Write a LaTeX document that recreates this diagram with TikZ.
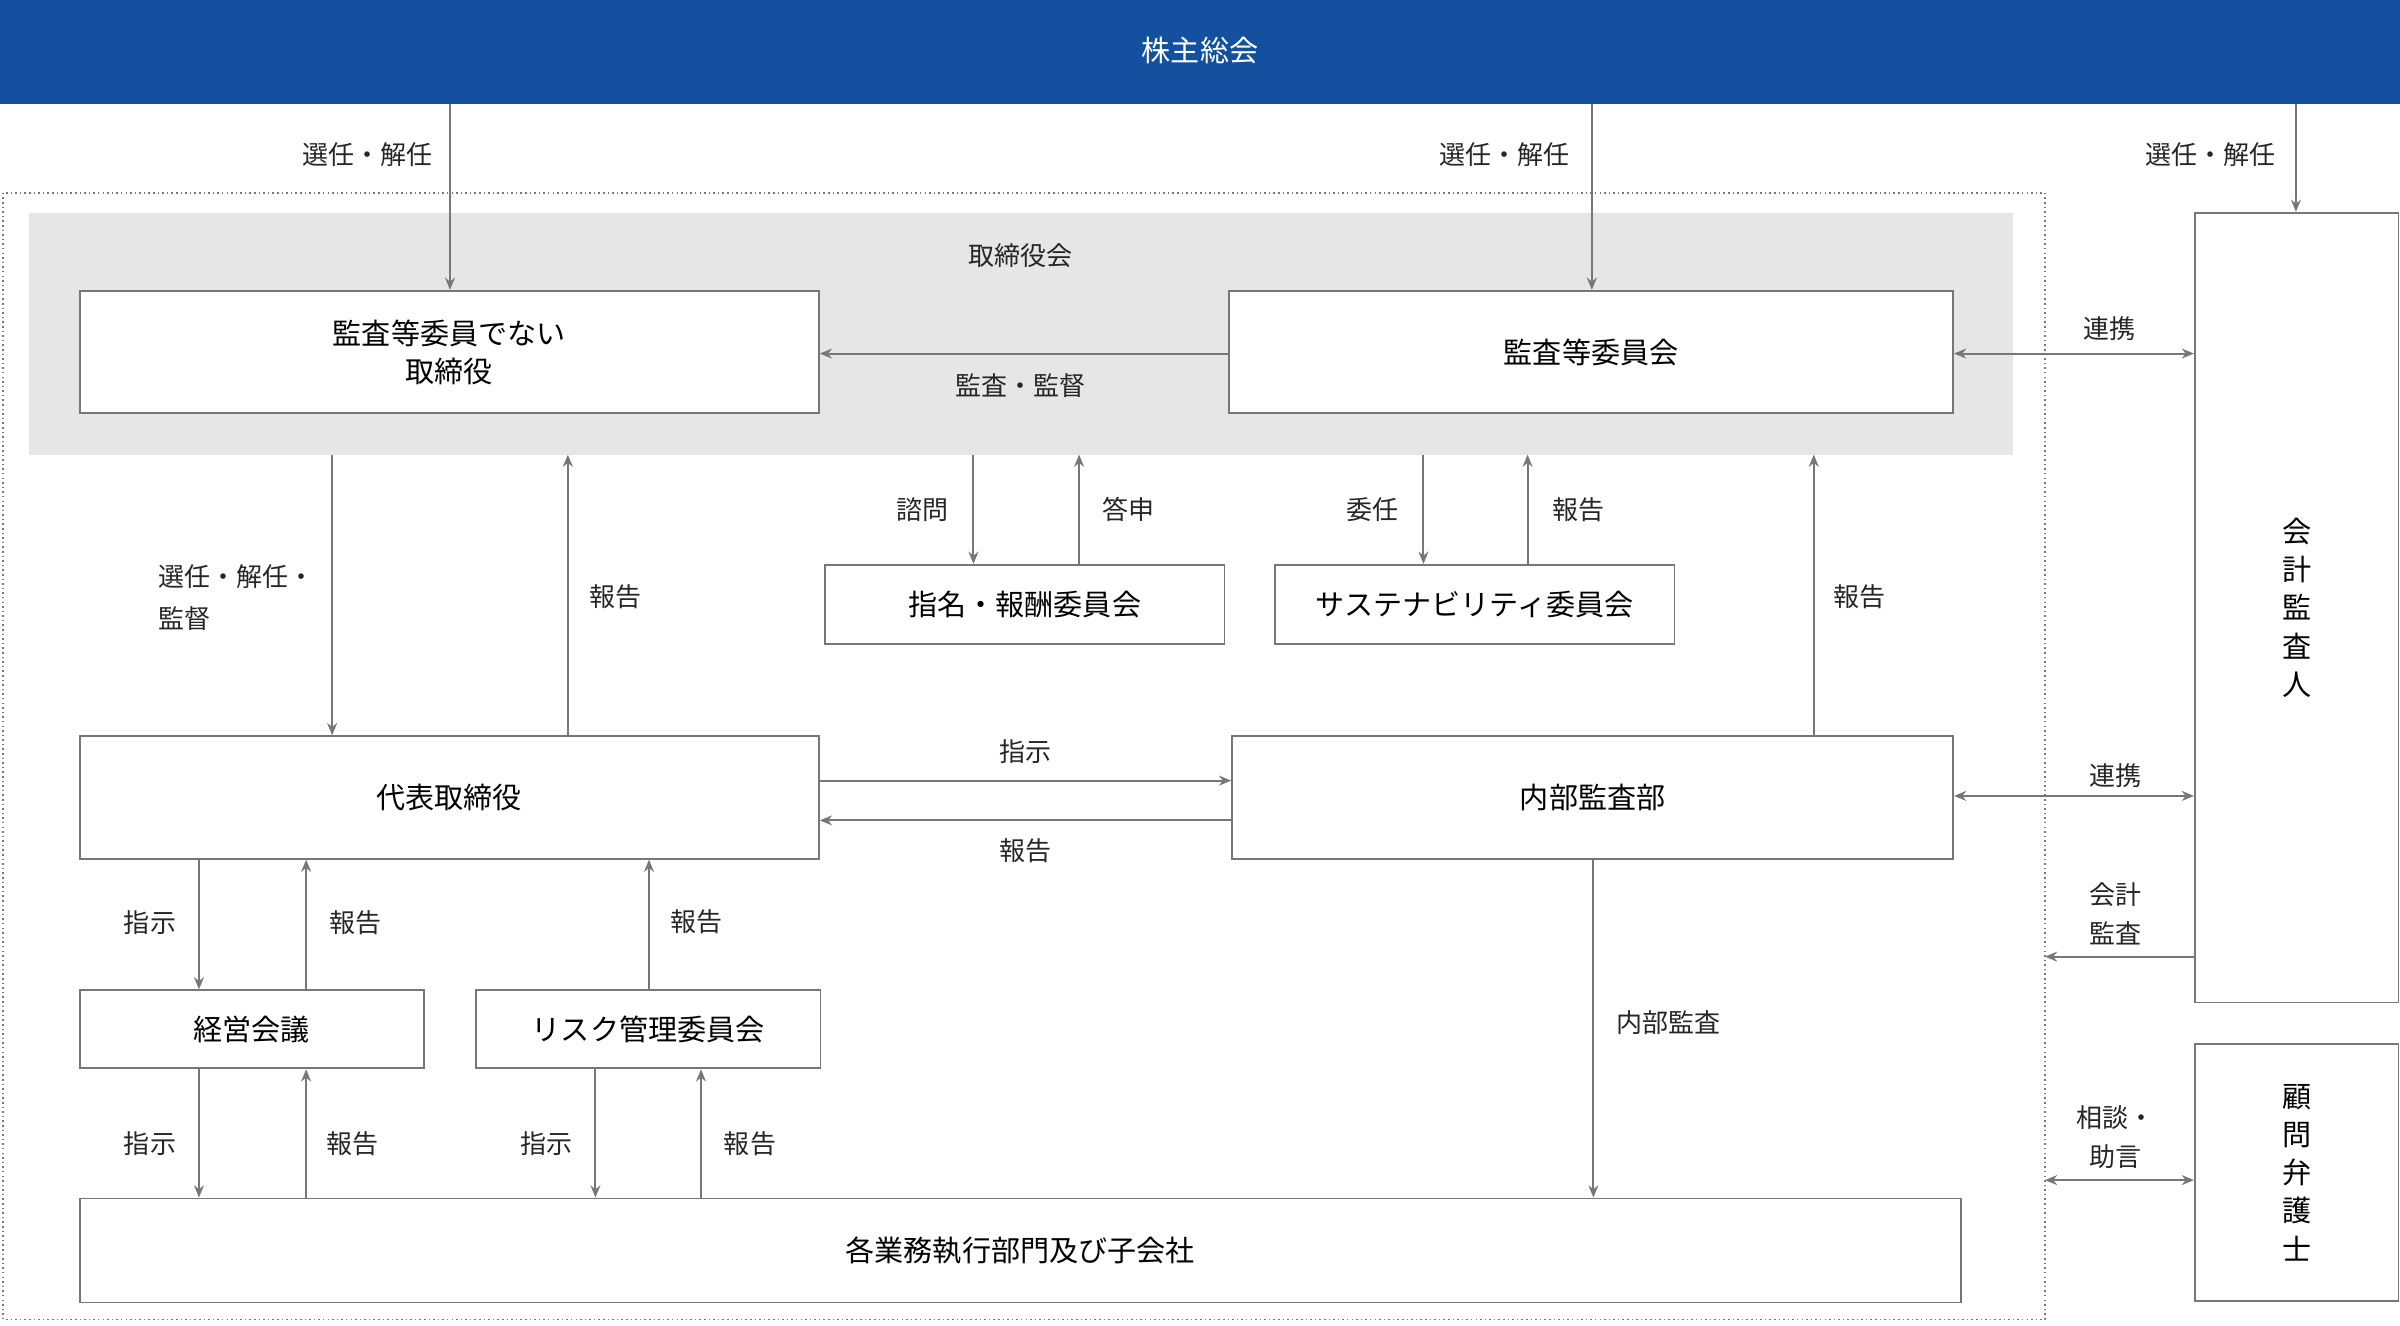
\documentclass[tikz,border=0pt]{standalone}
\usepackage{fontspec}
\setmainfont{Noto Sans CJK JP}
\usetikzlibrary{arrows.meta}
\definecolor{topblue}{HTML}{1450A0}
\definecolor{boardgray}{HTML}{E6E6E6}
\definecolor{linegray}{HTML}{777777}
\begin{document}
\begin{tikzpicture}[x=1pt,y=-1pt,
  box/.style={draw=linegray,line width=1.2pt,fill=white,font=\fontsize{19}{25}\selectfont,align=center},
  lbl/.style={font=\fontsize{17}{25}\selectfont,align=left,text=black!85},
  arr/.style={draw=linegray,line width=1.3pt,-{Stealth[length=8pt,width=6.5pt]}},
  darr/.style={draw=linegray,line width=1.3pt,{Stealth[length=8pt,width=6.5pt]}-{Stealth[length=8pt,width=6.5pt]}}]
\useasboundingbox (0,0) rectangle (1568,866);
\fill[topblue] (0,0) rectangle (1568,68);
\node[text=white,font=\fontsize{19}{25}\selectfont] (gm) at (784,33) {株主総会};
\draw[linegray,line width=1pt,dotted] (2,126) rectangle (1336,862);
\fill[boardgray] (19,139) rectangle (1315,297);
\node[lbl] (bd) at (667,167) {取締役会};
% boxes
\node[box,minimum width=483pt,minimum height=80pt] (A) at (293.5,230) {監査等委員でない\\取締役};
\node[box,minimum width=473pt,minimum height=80pt] (B) at (1039.5,230) {監査等委員会};
\node[box,minimum width=133pt,minimum height=516pt] (AU) at (1500.5,397) {会\\計\\監\\査\\人};
\node[box,minimum width=133pt,minimum height=168pt] (LW) at (1500.5,766) {顧\\問\\弁\\護\\士};
\node[box,minimum width=261pt,minimum height=52pt] (N) at (669.5,395) {指名・報酬委員会};
\node[box,minimum width=261pt,minimum height=52pt] (S) at (963.5,395) {サステナビリティ委員会};
\node[box,minimum width=483pt,minimum height=80pt] (R) at (293.5,521) {代表取締役};
\node[box,minimum width=471pt,minimum height=80pt] (I) at (1040.5,521) {内部監査部};
\node[box,minimum width=225pt,minimum height=51pt] (K) at (164.5,672.5) {経営会議};
\node[box,minimum width=225pt,minimum height=51pt] (RK) at (423.5,672.5) {リスク管理委員会};
\node[box,minimum width=1229pt,minimum height=68pt] (E) at (666.5,817) {各業務執行部門及び子会社};
\coordinate (dl1) at (1336,625);
\coordinate (dl2) at (1336,771);
% top arrows
\draw[arr] (294,68) -- (A.north -| 294,0);
\node[lbl] at (240,101) {選任・解任};
\draw[arr] (1040,68) -- (B.north -| 1040,0);
\node[lbl] at (983,101) {選任・解任};
\draw[arr] (1500,68) -- (AU.north -| 1500,0);
\node[lbl] at (1444,101) {選任・解任};
% board
\draw[arr] (B.west |- 0,231) -- (A.east |- 0,231);
\node[lbl] at (667,252) {監査・監督};
\draw[darr] (B.east |- 0,231) -- (AU.west |- 0,231);
\node[lbl] at (1378,215) {連携};
% committees
\draw[arr] (636,297) -- (N.north -| 636,0);
\node[lbl] at (603,333) {諮問};
\draw[arr] (N.north -| 705,0) -- (705,297);
\node[lbl] at (737,333) {答申};
\draw[arr] (930,297) -- (S.north -| 930,0);
\node[lbl] at (897,333) {委任};
\draw[arr] (S.north -| 998,0) -- (998,297);
\node[lbl] at (1031,333) {報告};
% rep
\draw[arr] (217,297) -- (R.north -| 217,0);
\node[lbl,anchor=west] at (100,377) {選任・解任・};
\node[lbl,anchor=west] at (100,404) {監督};
\draw[arr] (R.north -| 371,0) -- (371,297);
\node[lbl] at (402,390) {報告};
\draw[arr] (I.north -| 1185,0) -- (1185,297);
\node[lbl] at (1215,390) {報告};
\draw[arr] (R.east |- 0,510) -- (I.west |- 0,510);
\node[lbl] at (670,491) {指示};
\draw[arr] (I.west |- 0,536) -- (R.east |- 0,536);
\node[lbl] at (670,556) {報告};
\draw[darr] (I.east |- 0,520) -- (AU.west |- 0,520);
\node[lbl] at (1382,507) {連携};
\draw[arr] (AU.west |- 0,625) -- (dl1);
\node[lbl,align=center] at (1382,597) {会計\\監査};
\draw[darr] (dl2) -- (LW.west |- 0,771);
\node[lbl,align=center] at (1382,743) {相談・\\助言};
% lower
\draw[arr] (R.south -| 130,0) -- (K.north -| 130,0);
\node[lbl] at (98,603) {指示};
\draw[arr] (K.north -| 200,0) -- (R.south -| 200,0);
\node[lbl] at (232,603) {報告};
\draw[arr] (RK.north -| 424,0) -- (R.south -| 424,0);
\node[lbl] at (455,602) {報告};
\draw[arr] (K.south -| 130,0) -- (E.north -| 130,0);
\node[lbl] at (98,747) {指示};
\draw[arr] (E.north -| 200,0) -- (K.south -| 200,0);
\node[lbl] at (230,747) {報告};
\draw[arr] (RK.south -| 389,0) -- (E.north -| 389,0);
\node[lbl] at (357,747) {指示};
\draw[arr] (E.north -| 458,0) -- (RK.south -| 458,0);
\node[lbl] at (490,747) {報告};
\draw[arr] (I.south -| 1041,0) -- (E.north -| 1041,0);
\node[lbl] at (1090,668) {内部監査};
\end{tikzpicture}
\end{document}
